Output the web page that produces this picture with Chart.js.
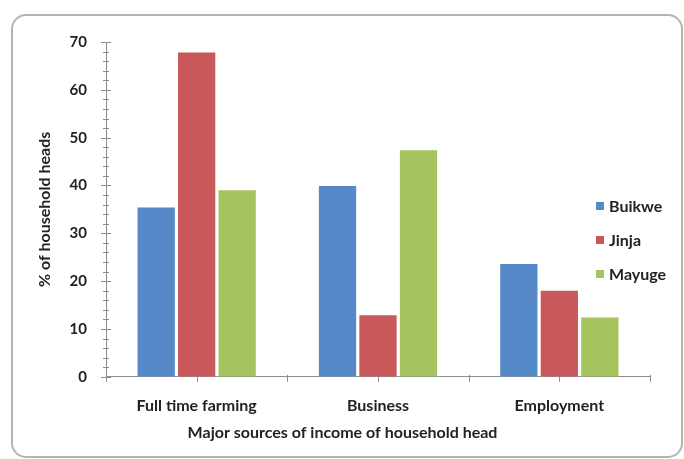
<!DOCTYPE html>
<html>
<head>
<meta charset="utf-8">
<script src="https://cdn.jsdelivr.net/npm/chart.js@4.4.1/dist/chart.umd.min.js"></script>
<style>
  html, body { margin: 0; padding: 0; background: #fff; }
  #wrap { width: 684px; height: 459px; }
</style>
</head>
<body>
<div id="wrap"><canvas id="incomeChart" width="684" height="459"></canvas></div>
<script>
// income sources by district
const categories = ['Full time farming', 'Business', 'Employment'];
const buikwe = [35.6, 40.1, 23.8];
const jinja = [68.0, 13.1, 18.2];
const mayuge = [39.2, 47.6, 12.6];
const seriesNames = ['Buikwe', 'Jinja', 'Mayuge'];
const seriesColors = ['#5589c8', '#c9585a', '#a5c45f'];

const axisGray = '#8c8c8c';
const textColor = '#222';
const fontFamily = 'Lato, "Open Sans", sans-serif';

// rounded outer frame
const framePlugin = {
  id: 'frame',
  beforeDraw(chart) {
    const c = chart.ctx;
    c.save();
    c.fillStyle = '#fff';
    c.fillRect(0, 0, chart.width, chart.height);
    c.strokeStyle = '#b4b4b4';
    c.lineWidth = 2;
    c.beginPath();
    c.roundRect(12, 15, 670, 442, 14);
    c.stroke();
    c.restore();
  }
};

// crossing tick marks on both axes (major + minor on y)
const axisTicksPlugin = {
  id: 'axisTicks',
  afterDatasetsDraw(chart) {
    const c = chart.ctx;
    const y = chart.scales.y;
    const area = chart.chartArea;
    c.save();
    c.strokeStyle = axisGray;
    c.lineWidth = 1;
    c.beginPath();
    for (let v = y.min; v <= y.max; v += 2) {
      const py = Math.round(y.getPixelForValue(v)) + 0.5;
      const len = v % 10 === 0 ? 5 : 3;
      c.moveTo(area.left - len, py);
      c.lineTo(area.left + len, py);
    }
    const n = categories.length;
    const step = (area.right - area.left) / n;
    for (let i = 0; i <= n * 2; i++) {
      const px = Math.round(area.left + i * step / 2) + 0.5;
      c.moveTo(px, area.bottom - 2);
      c.lineTo(px, area.bottom + 5);
    }
    c.stroke();
    c.restore();
  }
};

// legend floated over the right of the plot
const sideLegendPlugin = {
  id: 'sideLegend',
  afterDraw(chart) {
    const c = chart.ctx;
    c.save();
    c.font = 'bold 16px ' + fontFamily;
    c.textBaseline = 'middle';
    chart.data.datasets.forEach((ds, i) => {
      const cy = 206 + i * 34;
      c.fillStyle = ds.backgroundColor;
      c.fillRect(596, cy - 4, 8, 8);
      c.fillStyle = textColor;
      c.fillText(ds.label, 609, cy + 1);
    });
    c.restore();
  }
};

const ctx = document.getElementById('incomeChart').getContext('2d');

new Chart(ctx, {
  type: 'bar',
  data: {
    labels: categories,
    datasets: [buikwe, jinja, mayuge].map((vals, i) => ({
      label: seriesNames[i],
      data: vals,
      backgroundColor: seriesColors[i],
      borderColor: 'rgba(255,255,255,0.55)',
      borderWidth: 1,
      categoryPercentage: 0.67,
      barPercentage: 0.97
    }))
  },
  options: {
    responsive: false,
    animation: false,
    layout: { padding: { left: 35, right: 34, top: 42, bottom: 17 } },
    plugins: {
      legend: { display: false },
      tooltip: { enabled: false },
      // axis caption centred on the whole chart, below the category labels
      title: {
        display: true,
        position: 'bottom',
        fullSize: true,
        text: 'Major sources of income of household head',
        color: textColor,
        font: { family: fontFamily, size: 16, weight: 'bold' },
        padding: 0
      }
    },
    scales: {
      x: {
        afterFit(scale) { scale.height = 46; },
        grid: { display: false, drawTicks: false },
        border: { display: true, color: axisGray, width: 1 },
        ticks: { color: textColor, font: { family: fontFamily, size: 16, weight: 'bold' }, padding: 19, maxRotation: 0 }
      },
      y: {
        afterFit(scale) { scale.width = 71; },
        min: 0,
        max: 70,
        grid: { display: false, drawTicks: false },
        border: { display: true, color: axisGray, width: 1 },
        ticks: { stepSize: 10, color: textColor, font: { family: fontFamily, size: 15, weight: 'bold' }, padding: 19 },
        title: {
          display: true,
          text: '% of household heads',
          color: textColor,
          font: { family: fontFamily, size: 16, weight: 'bold' },
          padding: 0
        }
      }
    }
  },
  plugins: [framePlugin, axisTicksPlugin, sideLegendPlugin]
});
</script>
</body>
</html>
